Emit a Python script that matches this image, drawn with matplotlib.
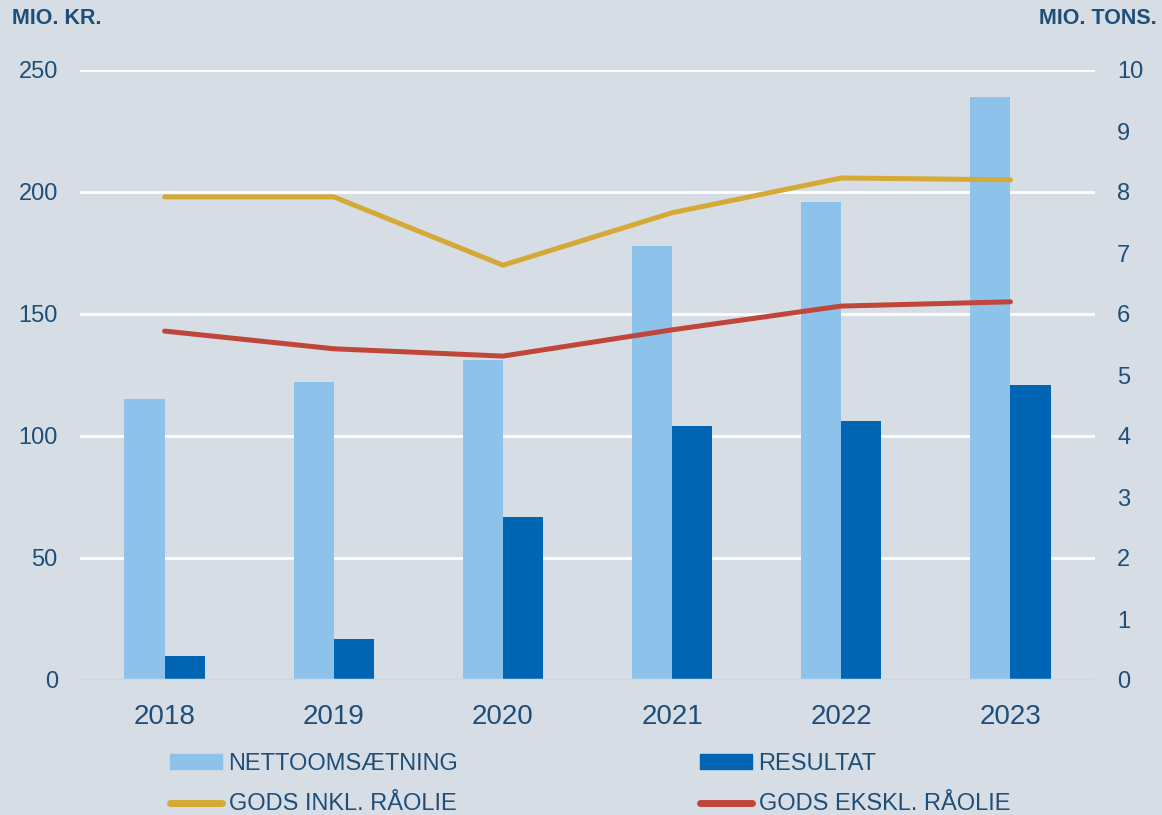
import matplotlib
matplotlib.use("Agg")
import matplotlib.pyplot as plt
import numpy as np
from matplotlib.lines import Line2D
from matplotlib.patches import Patch

years = ["2018", "2019", "2020", "2021", "2022", "2023"]
nettoomsaetning = [115, 122, 131, 178, 196, 239]
resultat = [10, 17, 67, 104, 106, 121]
gods_inkl = [7.92, 7.92, 6.80, 7.66, 8.23, 8.20]
gods_ekskl = [5.72, 5.43, 5.31, 5.74, 6.13, 6.20]

BG = "#D6DDE4"
TXT = "#1F4E79"
C_LIGHT = "#8DC3EA"
C_DARK = "#0066B3"
C_YEL = "#D4A935"
C_RED = "#C0463A"

plt.rcParams['font.family'] = ['Liberation Sans', 'DejaVu Sans']

fig = plt.figure(figsize=(11.62, 8.15), dpi=100, facecolor=BG)
ax = fig.add_axes([80/1162, 1-680/815, 1015/1162, 610/815])
ax.set_facecolor(BG)
ax2 = ax.twinx()

x = np.arange(len(years))
w = 0.237
ax.bar(x - w/2, nettoomsaetning, width=w, color=C_LIGHT, zorder=2)
ax.bar(x + w/2, resultat, width=w, color=C_DARK, zorder=2)
ax2.plot(x, gods_inkl, color=C_YEL, lw=3.6, solid_capstyle='round', zorder=3)
ax2.plot(x, gods_ekskl, color=C_RED, lw=3.6, solid_capstyle='round', zorder=3)

ax.set_xlim(-0.5, len(years) - 0.5)
ax.set_ylim(0, 250)
ax2.set_ylim(0, 10)
ax.set_yticks(range(0, 251, 50))
ax2.set_yticks(range(0, 11, 1))
ax.set_xticks(x)
ax.set_xticklabels(years)

for a in (ax, ax2):
    for s in a.spines.values():
        s.set_visible(False)
ax.yaxis.grid(True, color="white", lw=2.0, zorder=0)
ax.set_axisbelow(True)
ax.axhline(0, color="#C6DAEC", lw=2.5, zorder=4)

ax.tick_params(axis='y', length=0, pad=16, labelsize=17, labelcolor=TXT)
ax.tick_params(axis='x', length=0, pad=17, labelsize=20, labelcolor=TXT)
ax2.tick_params(axis='y', length=0, pad=16, labelsize=17, labelcolor=TXT)

fig.text(12/1162, 1-19/815, "MIO. KR.", ha='left', va='center', fontsize=15.5,
         fontweight='bold', color=TXT)
fig.text(1157/1162, 1-19/815, "MIO. TONS.", ha='right', va='center', fontsize=15.5,
         fontweight='bold', color=TXT)

legfont = dict(family=['Liberation Sans Narrow', 'Liberation Sans', 'DejaVu Sans'], size=17)
h1 = [Patch(color=C_LIGHT), Line2D([], [], color=C_YEL, lw=5, solid_capstyle='round')]
h2 = [Patch(color=C_DARK), Line2D([], [], color=C_RED, lw=5, solid_capstyle='round')]
kw = dict(frameon=False, handlelength=2.2, handleheight=0.6, handletextpad=0.28,
          labelspacing=0.78, prop=legfont, labelcolor=TXT, loc='upper left',
          borderpad=0, borderaxespad=0)
l1 = fig.legend(h1, ["NETTOOMSÆTNING", "GODS INKL. RÅOLIE"],
                bbox_to_anchor=(170/1162, 1-753/815), **kw)
l2 = fig.legend(h2, ["RESULTAT", "GODS EKSKL. RÅOLIE"],
                bbox_to_anchor=(700/1162, 1-753/815), **kw)

fig.savefig("out.png", dpi=100, facecolor=BG)
